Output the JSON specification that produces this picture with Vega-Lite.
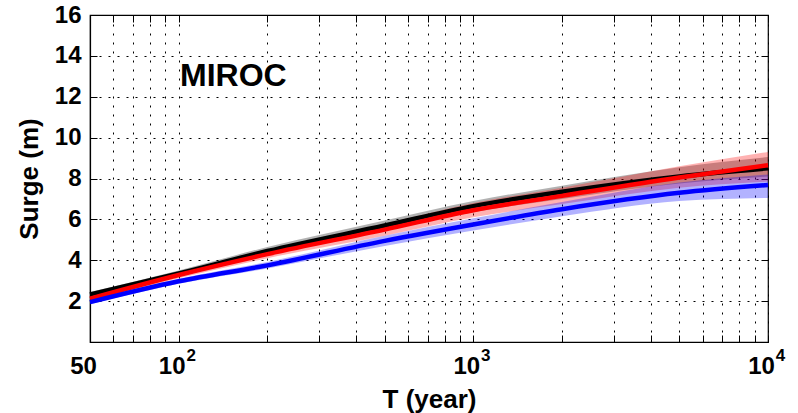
{
  "$schema": "https://vega.github.io/schema/vega-lite/v6.json",
  "width": 678,
  "height": 327,
  "autosize": {"type": "none"},
  "padding": {"left": 90, "top": 15, "right": 30, "bottom": 71},
  "background": "white",
  "datasets": {
    "curves": [
      {"T": 50, "s": "black", "y": 2.33, "lo": 2.2, "hi": 2.45},
      {"T": 100, "s": "black", "y": 3.35, "lo": 3.2, "hi": 3.5},
      {"T": 200, "s": "black", "y": 4.45, "lo": 4.25, "hi": 4.65},
      {"T": 500, "s": "black", "y": 5.7, "lo": 5.45, "hi": 5.95},
      {"T": 1000, "s": "black", "y": 6.65, "lo": 6.35, "hi": 6.9},
      {"T": 2000, "s": "black", "y": 7.35, "lo": 7.0, "hi": 7.65},
      {"T": 5000, "s": "black", "y": 8.1, "lo": 7.75, "hi": 8.55},
      {"T": 10000, "s": "black", "y": 8.5, "lo": 8.1, "hi": 9.05},
      {"T": 50, "s": "red", "y": 2.12, "lo": 2.0, "hi": 2.22},
      {"T": 100, "s": "red", "y": 3.28, "lo": 3.12, "hi": 3.42},
      {"T": 200, "s": "red", "y": 4.3, "lo": 4.1, "hi": 4.5},
      {"T": 500, "s": "red", "y": 5.5, "lo": 5.2, "hi": 5.78},
      {"T": 1000, "s": "red", "y": 6.45, "lo": 6.1, "hi": 6.8},
      {"T": 2000, "s": "red", "y": 7.15, "lo": 6.75, "hi": 7.55},
      {"T": 5000, "s": "red", "y": 8.05, "lo": 7.55, "hi": 8.6},
      {"T": 10000, "s": "red", "y": 8.65, "lo": 7.85, "hi": 9.3},
      {"T": 50, "s": "blue", "y": 1.95, "lo": 1.85, "hi": 2.05},
      {"T": 100, "s": "blue", "y": 2.97, "lo": 2.85, "hi": 3.1},
      {"T": 200, "s": "blue", "y": 3.75, "lo": 3.6, "hi": 3.92},
      {"T": 500, "s": "blue", "y": 4.95, "lo": 4.7, "hi": 5.2},
      {"T": 1000, "s": "blue", "y": 5.75, "lo": 5.45, "hi": 6.05},
      {"T": 2000, "s": "blue", "y": 6.5, "lo": 6.15, "hi": 6.85},
      {"T": 5000, "s": "blue", "y": 7.3, "lo": 6.9, "hi": 7.8},
      {"T": 10000, "s": "blue", "y": 7.68, "lo": 7.05, "hi": 8.2}
    ],
    "labels": [{"T": 101, "v": 13, "label": "MIROC"}]
  },
  "layer": [
    {
      "data": {"name": "curves"},
      "mark": {"type": "area", "opacity": 0.3, "interpolate": "monotone"},
      "encoding": {
        "x": {
          "field": "T", "type": "quantitative",
          "scale": {"type": "log", "domain": [50, 10000], "nice": false},
          "axis": {
            "orient": "bottom",
            "title": "T (year)",
            "values": [50, 60, 70, 80, 90, 100, 200, 300, 400, 500, 600, 700, 800, 900, 1000, 2000, 3000, 4000, 5000, 6000, 7000, 8000, 9000, 10000],
            "labelExpr": "datum.value == 50 ? '50' : (datum.value == 100 || datum.value == 1000 || datum.value == 10000) ? '10' : ''",
            "labelFlush": false,
            "labelOverlap": false,
            "labelFontSize": 24,
            "labelOffset": -7,
            "labelPadding": 19,
            "titlePadding": 8
          }
        },
        "y": {
          "field": "lo", "type": "quantitative",
          "scale": {"domain": [0, 16], "nice": false, "zero": false},
          "axis": {
            "orient": "left",
            "title": "Surge (m)",
            "values": [0, 2, 4, 6, 8, 10, 12, 14, 16],
            "labelExpr": "datum.value == 0 ? '' : datum.label",
            "labelFontSize": 24,
            "labelPadding": 16,
            "titlePadding": 12
          }
        },
        "y2": {"field": "hi"},
        "color": {"field": "s", "type": "nominal", "scale": {"domain": ["black", "red", "blue"], "range": ["#000000", "#ff0000", "#0000ff"]}, "legend": null}
      }
    },
    {
      "data": {"name": "curves"},
      "transform": [{"filter": "datum.s == 'black'"}],
      "mark": {"type": "line", "strokeWidth": 4.5, "color": "#000000", "interpolate": "monotone"},
      "encoding": {
        "x": {
          "field": "T", "type": "quantitative",
          "axis": {
            "orient": "bottom", "title": null, "grid": false, "domain": false, "ticks": false,
            "values": [100, 1000, 10000],
            "labelExpr": "datum.value == 100 ? '2' : datum.value == 1000 ? '3' : '4'",
            "labelFontSize": 17,
            "labelOffset": 12,
            "labelPadding": 5,
            "labelFlush": false,
            "labelOverlap": false
          }
        },
        "y": {"field": "y", "type": "quantitative", "axis": null}
      }
    },
    {
      "data": {"name": "curves"},
      "transform": [{"filter": "datum.s == 'red'"}],
      "mark": {"type": "line", "strokeWidth": 4.5, "color": "#ff0000", "interpolate": "monotone"},
      "encoding": {
        "x": {"field": "T", "type": "quantitative", "axis": null},
        "y": {"field": "y", "type": "quantitative", "axis": null}
      }
    },
    {
      "data": {"name": "curves"},
      "transform": [{"filter": "datum.s == 'blue'"}],
      "mark": {"type": "line", "strokeWidth": 4.5, "color": "#0000ff", "interpolate": "monotone"},
      "encoding": {
        "x": {
          "field": "T", "type": "quantitative",
          "axis": {
            "orient": "top", "title": null, "labels": false, "grid": false, "domain": false,
            "values": [50, 60, 70, 80, 90, 100, 200, 300, 400, 500, 600, 700, 800, 900, 1000, 2000, 3000, 4000, 5000, 6000, 7000, 8000, 9000, 10000]
          }
        },
        "y": {
          "field": "y", "type": "quantitative",
          "axis": {
            "orient": "right", "title": null, "labels": false, "grid": false, "domain": false,
            "values": [0, 2, 4, 6, 8, 10, 12, 14, 16]
          }
        }
      }
    },
    {
      "data": {"name": "labels"},
      "mark": {"type": "text", "align": "left", "baseline": "middle", "font": "Liberation Sans", "fontWeight": "bold", "fontSize": 32, "color": "black"},
      "encoding": {
        "x": {"field": "T", "type": "quantitative", "axis": null},
        "y": {"field": "v", "type": "quantitative", "axis": null},
        "text": {"field": "label"}
      }
    }
  ],
  "resolve": {"axis": {"x": "independent", "y": "independent"}},
  "config": {
    "font": "Liberation Sans",
    "view": {"stroke": "black", "strokeWidth": 1.2},
    "axis": {
      "labelFont": "Liberation Sans", "labelFontWeight": "bold", "labelFontSize": 22, "labelColor": "black",
      "titleFont": "Liberation Sans", "titleFontWeight": "bold", "titleFontSize": 26, "titleColor": "black",
      "domainColor": "black", "domainWidth": 1.2,
      "tickColor": "black", "tickWidth": 1, "tickSize": -7,
      "gridColor": "black", "gridDash": [2, 7], "gridOpacity": 1, "gridWidth": 1
    }
  }
}
